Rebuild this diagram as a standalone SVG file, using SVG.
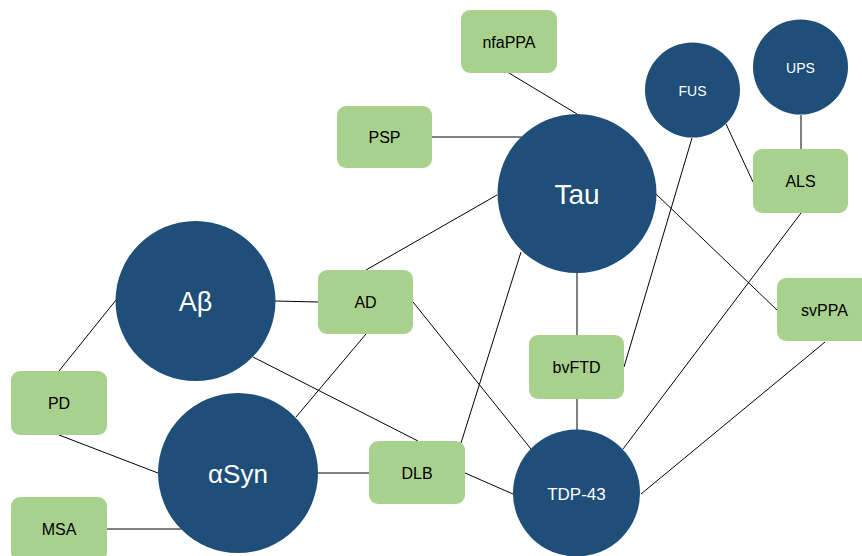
<svg xmlns="http://www.w3.org/2000/svg" width="862" height="556" viewBox="0 0 862 556">
<style>
.c{fill:#1F4E79}
.r{fill:#A9D18E}
.tw{fill:#fff;font-family:"Liberation Sans",Arial,sans-serif;text-anchor:middle;dominant-baseline:central}
.tb{fill:#000;font-family:"Liberation Sans",Arial,sans-serif;text-anchor:middle;dominant-baseline:central;font-size:16px}
#edges line{stroke:#000;stroke-width:1}
</style>
<rect width="862" height="556" fill="#fff"/>
<g id="edges">
<line x1="509" y1="73" x2="577" y2="114"/>
<line x1="432" y1="137" x2="521" y2="137"/>
<line x1="497" y1="195" x2="366" y2="270"/>
<line x1="275" y1="301" x2="318" y2="302"/>
<line x1="366" y1="334" x2="296" y2="417"/>
<line x1="413" y1="302" x2="531" y2="449"/>
<line x1="253" y1="357" x2="418" y2="441"/>
<line x1="59" y1="371" x2="116" y2="300"/>
<line x1="59" y1="435" x2="158" y2="473"/>
<line x1="107" y1="529" x2="181" y2="529"/>
<line x1="318" y1="473" x2="369" y2="473"/>
<line x1="465" y1="473" x2="513" y2="494"/>
<line x1="461" y1="443" x2="521" y2="252"/>
<line x1="577" y1="272" x2="577" y2="335"/>
<line x1="577" y1="399" x2="577" y2="430"/>
<line x1="624" y1="367" x2="692" y2="138"/>
<line x1="726" y1="124" x2="753" y2="182"/>
<line x1="801" y1="115" x2="801" y2="149"/>
<line x1="801" y1="213" x2="623" y2="449"/>
<line x1="656" y1="194" x2="777" y2="310"/>
<line x1="825" y1="342" x2="641" y2="494"/>
</g>
<g id="tau"><circle class="c" cx="577" cy="193.5" r="79.5"/><text class="tw" x="577" y="194" font-size="28">Tau</text></g>
<g id="fus"><circle class="c" cx="692.5" cy="90" r="47.5"/><text class="tw" x="692.5" y="91" font-size="14">FUS</text></g>
<g id="ups"><circle class="c" cx="800.5" cy="67" r="47.5"/><text class="tw" x="800.5" y="68" font-size="14">UPS</text></g>
<g id="abeta"><circle class="c" cx="195.5" cy="301" r="80"/><text class="tw" x="195.5" y="302" font-size="27">Aβ</text></g>
<g id="asyn"><circle class="c" cx="238" cy="473" r="80"/><text class="tw" x="238" y="474" font-size="26">αSyn</text></g>
<g id="tdp43"><circle class="c" cx="576.5" cy="493" r="63.5"/><text class="tw" x="576.5" y="494" font-size="17">TDP-43</text></g>
<g id="nfappa"><rect class="r" x="461" y="10" width="96" height="63" rx="9"/><text class="tb" x="509" y="42">nfaPPA</text></g>
<g id="psp"><rect class="r" x="337" y="106" width="95" height="62" rx="9"/><text class="tb" x="384.5" y="137">PSP</text></g>
<g id="als"><rect class="r" x="753" y="149" width="95" height="64" rx="9"/><text class="tb" x="800.5" y="181">ALS</text></g>
<g id="ad"><rect class="r" x="318" y="270" width="95" height="64" rx="9"/><text class="tb" x="365.5" y="302">AD</text></g>
<g id="svppa"><rect class="r" x="777" y="278" width="95" height="63" rx="9"/><text class="tb" x="824.5" y="310">svPPA</text></g>
<g id="bvftd"><rect class="r" x="529" y="335" width="95" height="64" rx="9"/><text class="tb" x="576.5" y="367">bvFTD</text></g>
<g id="pd"><rect class="r" x="11" y="371" width="96" height="64" rx="9"/><text class="tb" x="59" y="403">PD</text></g>
<g id="dlb"><rect class="r" x="369" y="441" width="96" height="63" rx="9"/><text class="tb" x="417" y="473">DLB</text></g>
<g id="msa"><rect class="r" x="11" y="497" width="96" height="64" rx="9"/><text class="tb" x="59" y="529">MSA</text></g>
</svg>
